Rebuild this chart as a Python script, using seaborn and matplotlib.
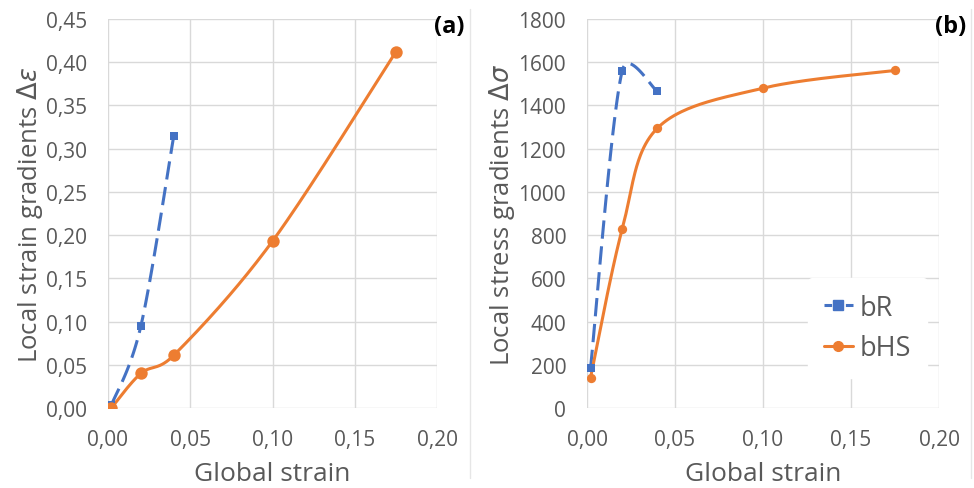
import numpy as np
import matplotlib
matplotlib.use("Agg")
import matplotlib.pyplot as plt
from matplotlib.lines import Line2D
from matplotlib.ticker import FuncFormatter, MultipleLocator
import seaborn as sns

# ---- data ----
br_x = [0.002, 0.02, 0.04]
br_strain = [0.003, 0.095, 0.315]
br_stress = [185, 1560, 1465]

bhs_x = [0.002, 0.02, 0.04, 0.10, 0.175]
bhs_strain = [0.0, 0.040, 0.061, 0.193, 0.412]
bhs_stress = [140, 828, 1295, 1480, 1562]

series_names = ["bR", "bHS"]
panel_labels = ["(a)", "(b)"]
ylabels = [r"Local strain gradients $\mathit{\Delta\varepsilon}$",
           r"Local stress gradients $\mathit{\Delta\sigma}$"]
xlabel = "Global strain"

BLUE = "#4472C4"
ORANGE = "#ED7D31"
TXT = "#595959"
GRID = "#D9D9D9"

sns.set_theme(style="whitegrid")
plt.rcParams["font.family"] = ["Open Sans", "DejaVu Sans"]
plt.rcParams["mathtext.fontset"] = "dejavusans"


def smooth(x, y, sx, sy, n=50):
    """Excel-like Bezier smoothing through the points (computed in display-scaled units)."""
    P = np.column_stack([np.asarray(x, float) * sx, np.asarray(y, float) * sy])
    out = []
    for i in range(len(P) - 1):
        p0 = P[i - 1] if i > 0 else P[i]
        p1 = P[i]
        p2 = P[i + 1]
        p3 = P[i + 2] if i + 2 < len(P) else P[i + 1]
        d12 = np.linalg.norm(p2 - p1)
        d02 = np.linalg.norm(p2 - p0)
        d13 = np.linalg.norm(p3 - p1)
        f1 = min(1 / 6, 0.6 * d12 / d02) if d02 > 0 else 1 / 6
        f2 = min(1 / 6, 0.6 * d12 / d13) if d13 > 0 else 1 / 6
        c1 = p1 + (p2 - p0) * f1
        c2 = p2 - (p3 - p1) * f2
        t = np.linspace(0, 1, n)[:, None]
        seg = ((1 - t) ** 3) * p1 + 3 * ((1 - t) ** 2) * t * c1 + 3 * (1 - t) * t ** 2 * c2 + t ** 3 * p2
        out.append(seg if i == 0 else seg[1:])
    s = np.vstack(out)
    return s[:, 0] / sx, s[:, 1] / sy


fig = plt.figure(figsize=(9.74, 4.89), dpi=100)
ax_a = fig.add_axes([108 / 974, 80 / 489, 329 / 974, 389 / 489])
ax_b = fig.add_axes([587 / 974, 80 / 489, 352 / 974, 389 / 489])

comma2 = FuncFormatter(lambda v, p: f"{v:.2f}".replace(".", ","))
intfmt = FuncFormatter(lambda v, p: f"{v:.0f}")

configs = [
    (ax_a, br_strain, bhs_strain, (0, 0.45), 0.05, comma2, 80, 329, 0),
    (ax_b, br_stress, bhs_stress, (0, 1800), 200, intfmt, 45, 352, 1),
]

for ax, ybr, yhs, ylim, ystep, yfmt, s_c, wpx, idx in configs:
    sxs = wpx / 0.20
    sys_ = 389 / ylim[1]
    sx, sy = smooth(br_x, ybr, sxs, sys_)
    sns.lineplot(x=sx, y=sy, ax=ax, color=BLUE, linewidth=2.2, sort=False,
                 estimator=None, zorder=3)
    ax.lines[-1].set_dashes((6, 2.5))
    sns.scatterplot(x=br_x, y=ybr, ax=ax, color=BLUE, marker="s", s=40,
                    edgecolor=BLUE, linewidth=0, zorder=4)
    sx, sy = smooth(bhs_x, yhs, sxs, sys_)
    sns.lineplot(x=sx, y=sy, ax=ax, color=ORANGE, linewidth=2.2, sort=False,
                 estimator=None, zorder=3)
    sns.scatterplot(x=bhs_x, y=yhs, ax=ax, color=ORANGE, marker="o", s=s_c,
                    edgecolor=ORANGE, linewidth=0, zorder=5)

    ax.set_xlim(0, 0.20)
    ax.set_ylim(*ylim)
    ax.xaxis.set_major_locator(MultipleLocator(0.05))
    ax.yaxis.set_major_locator(MultipleLocator(ystep))
    ax.xaxis.set_major_formatter(comma2)
    ax.yaxis.set_major_formatter(yfmt)
    ax.set_facecolor("white")
    ax.grid(True, color=GRID, linewidth=1)
    for sp in ax.spines.values():
        sp.set_visible(False)
    ax.tick_params(axis="both", colors=TXT, labelsize=15, length=0)
    ax.tick_params(axis="x", pad=15)
    ax.tick_params(axis="y", pad=15)
    ax.set_xlabel(xlabel, fontsize=19, color=TXT, labelpad=8)
    ax.set_ylabel(ylabels[idx], fontsize=18.5, color=TXT, labelpad=1)
    ax.text(1.0 + (12 / wpx), 1.0 - 7 / 389, panel_labels[idx], transform=ax.transAxes,
            ha="center", va="center", fontsize=17, fontweight="bold", color="black")

handles = [
    Line2D([], [], color=BLUE, linewidth=2.2, dashes=(2.5, 1.0), marker="s",
           markersize=7, label=series_names[0]),
    Line2D([], [], color=ORANGE, linewidth=2.2, marker="o", markersize=7,
           label=series_names[1]),
]
leg = ax_b.legend(handles=handles, loc="center left",
                  bbox_to_anchor=((808 - 587) / 352, 1 - (329 - 20) / 389),
                  frameon=True, fontsize=19.5, handlelength=1.05, handletextpad=0.25,
                  labelspacing=0.45, borderpad=0.6, borderaxespad=0)
leg.get_frame().set_edgecolor("white")
leg.get_frame().set_facecolor("white")
leg.get_frame().set_alpha(1.0)
for t in leg.get_texts():
    t.set_color(TXT)

for xp in (470, 971):
    fig.add_artist(Line2D([xp / 974, xp / 974], [0.02, 0.98], color="#E6E6E6",
                          linewidth=1, transform=fig.transFigure))

fig.savefig("out.png", dpi=100, facecolor="white")
